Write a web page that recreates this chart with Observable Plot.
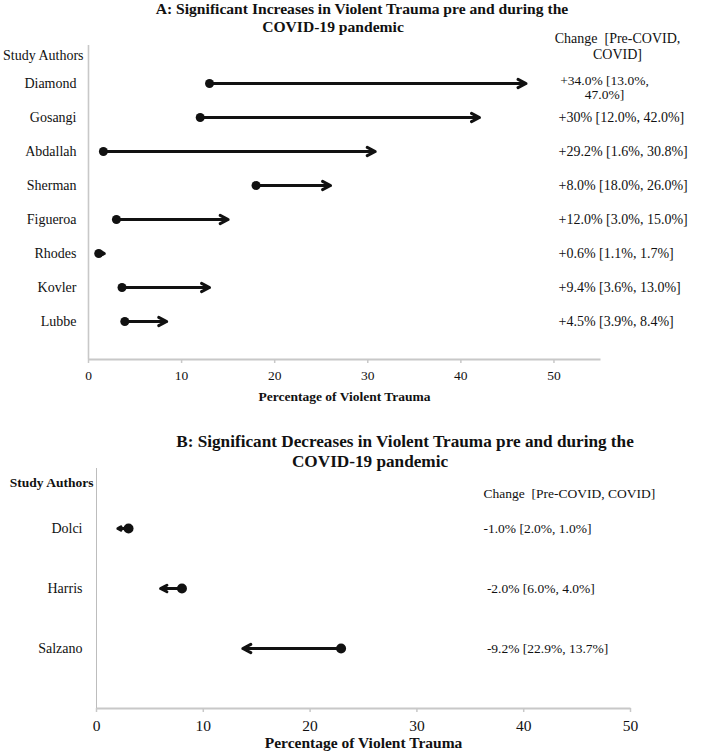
<!DOCTYPE html>
<html><head><meta charset="utf-8">
<script src="https://cdn.jsdelivr.net/npm/d3@7"></script>
<script src="https://cdn.jsdelivr.net/npm/@observablehq/plot@0.6"></script>
<style>
body{margin:0;background:#fff;}
#wrap{position:relative;width:703px;height:752px;font-family:"Liberation Serif","Times New Roman",serif;color:#111;overflow:hidden}
.panel{position:absolute;left:0}
.title{position:absolute;white-space:nowrap;font-weight:bold;line-height:1.15;transform:translateX(-50%)}
svg text{white-space:pre}
</style></head><body>
<div id="wrap">
<div id="A" class="panel" style="top:0"></div>
<div id="B" class="panel" style="top:420px"></div>
<div class="title" style="left:362px;top:0px;font-size:15.6px">A: Significant Increases in Violent Trauma pre and during the</div>
<div class="title" style="left:333px;top:17.5px;font-size:15.6px">COVID-19 pandemic</div>
<div class="title" style="left:405px;top:432px;font-size:17.2px">B: Significant Decreases in Violent Trauma pre and during the</div>
<div class="title" style="left:370px;top:452px;font-size:17.2px">COVID-19 pandemic</div>
</div>
<script>
// ---- Panel A data ----
const studiesA = ["Diamond","Gosangi","Abdallah","Sherman","Figueroa","Rhodes","Kovler","Lubbe"];
const preA  = [13.0, 12.0, 1.6, 18.0, 3.0, 1.1, 3.6, 3.9];
const postA = [47.0, 42.0, 30.8, 26.0, 15.0, 1.7, 13.0, 8.4];
const labelsA = ["+34.0% [13.0%,\n47.0%]", "+30% [12.0%, 42.0%]", "+29.2% [1.6%, 30.8%]", "+8.0% [18.0%, 26.0%]",
                 "+12.0% [3.0%, 15.0%]", "+0.6% [1.1%, 1.7%]", "+9.4% [3.6%, 13.0%]", "+4.5% [3.9%, 8.4%]"];
const headerA = "Change  [Pre-COVID,\nCOVID]";

// ---- Panel B data ----
const studiesB = ["Dolci","Harris","Salzano"];
const preB  = [3.0, 8.0, 22.9];
const postB = [2.0, 6.0, 13.7];
const labelsB = ["-1.0% [2.0%, 1.0%]", " -2.0% [6.0%, 4.0%]", " -9.2% [22.9%, 13.7%]"];
const headerB = "Change  [Pre-COVID, COVID]";

// ---- shared ----
const tickValues = [0, 10, 20, 30, 40, 50];
const xLabel = "Percentage of Violent Trauma";
const studyHeader = "Study Authors";

const font = "'Liberation Serif','Times New Roman',serif";
const ink = "#111";
const grid = "#c8c8c8";

const rowsA = studiesA.map((s, i) => ({name: s, pre: preA[i], post: postA[i], label: labelsA[i]}));
const rowsB = studiesB.map((s, i) => ({name: s, pre: preB[i], post: postB[i], label: labelsB[i]}));

function bottomDash(w, h, ml, mr, mt, mb) {
  const W = w - ml - mr, H = h - mt - mb;
  return `0 ${W + H} ${W} ${H}`;
}

// Panel A
const dA = {w: 703, h: 410, ml: 88, mr: 103, mt: 45, mb: 51};
const plotA = Plot.plot({
  width: dA.w, height: dA.h, marginLeft: dA.ml, marginRight: dA.mr, marginTop: dA.mt, marginBottom: dA.mb,
  style: {fontFamily: font, fontSize: "14px", background: "transparent", color: ink},
  x: {domain: [0, 55]},
  y: {type: "point", domain: studiesA, padding: 1},
  marks: [
    Plot.frame({stroke: grid, strokeWidth: 1.8, strokeDasharray: bottomDash(dA.w, dA.h, dA.ml, dA.mr, dA.mt, dA.mb)}),
    Plot.ruleX([0], {stroke: grid, strokeWidth: 1.6}),
    Plot.axisX({ticks: tickValues, tickSize: 4, tickPadding: 7, stroke: grid, strokeWidth: 1.5, fill: ink, fontSize: 13.5, label: null}),
    Plot.axisY({tickSize: 0, tickPadding: 12, fill: ink, fontSize: 14, label: null}),
    Plot.arrow(rowsA, {x1: "pre", x2: "post", y: "name", stroke: ink, strokeWidth: 3, headLength: 4.5, headAngle: 55}),
    Plot.dot(rowsA, {x: "pre", y: "name", r: 4.5, fill: ink}),
    Plot.text(rowsA.filter(d => !d.label.includes("\n")), {y: "name", text: "label", frameAnchor: "right", dx: -42, textAnchor: "start", lineAnchor: "middle", fill: ink, fontSize: 14}),
    Plot.text(rowsA.filter(d => d.label.includes("\n")), {y: "name", text: "label", frameAnchor: "right", dx: 4, dy: 4, textAnchor: "middle", lineAnchor: "middle", lineHeight: 1.02, fill: ink, fontSize: 13.5}),
    Plot.text([headerA], {text: d => d, frameAnchor: "top-right", dx: 17, dy: 0, textAnchor: "middle", lineAnchor: "middle", lineHeight: 1.14, fill: ink, fontSize: 14}),
    Plot.text([studyHeader], {text: d => d, frameAnchor: "top-left", dx: -5, dy: 10, textAnchor: "end", lineAnchor: "middle", fill: ink, fontSize: 14}),
    Plot.text([xLabel], {text: d => d, frameAnchor: "bottom", dy: 37, lineAnchor: "middle", fontWeight: "bold", fill: ink, fontSize: 13.5})
  ]
});
document.getElementById("A").appendChild(plotA);

// Panel B
const dB = {w: 703, h: 332, ml: 96, mr: 73, mt: 48, mb: 44};
const plotB = Plot.plot({
  width: dB.w, height: dB.h, marginLeft: dB.ml, marginRight: dB.mr, marginTop: dB.mt, marginBottom: dB.mb,
  style: {fontFamily: font, fontSize: "14px", background: "transparent", color: ink},
  x: {domain: [0, 50]},
  y: {type: "point", domain: studiesB, padding: 1},
  marks: [
    Plot.frame({stroke: grid, strokeWidth: 2, strokeDasharray: bottomDash(dB.w, dB.h, dB.ml, dB.mr, dB.mt, dB.mb)}),
    Plot.ruleX([0], {stroke: "#bdbdbd", strokeWidth: 1}),
    Plot.axisX({ticks: tickValues, tickSize: 4, tickPadding: 7, stroke: grid, strokeWidth: 1.5, fill: ink, fontSize: 15.5, label: null}),
    Plot.axisY({tickSize: 0, tickPadding: 14, fill: ink, fontSize: 14, label: null}),
    Plot.arrow(rowsB, {x1: "pre", x2: "post", y: "name", stroke: ink, strokeWidth: 3, headLength: 4.5, headAngle: 55}),
    Plot.dot(rowsB, {x: "pre", y: "name", r: 5, fill: ink}),
    Plot.text(rowsB, {y: "name", text: "label", frameAnchor: "right", dx: -147, textAnchor: "start", lineAnchor: "middle", fill: ink, fontSize: 13.5}),
    Plot.text([headerB], {text: d => d, frameAnchor: "top-right", dx: -147, dy: 25, textAnchor: "start", lineAnchor: "middle", fill: ink, fontSize: 13.5}),
    Plot.text([studyHeader], {text: d => d, frameAnchor: "top-left", dx: -3, dy: 14, textAnchor: "end", lineAnchor: "middle", fontWeight: "bold", fill: ink, fontSize: 13.5}),
    Plot.text([xLabel], {text: d => d, frameAnchor: "bottom", dy: 35, lineAnchor: "middle", fontWeight: "bold", fill: ink, fontSize: 15.5})
  ]
});
document.getElementById("B").appendChild(plotB);
</script>
</body></html>
